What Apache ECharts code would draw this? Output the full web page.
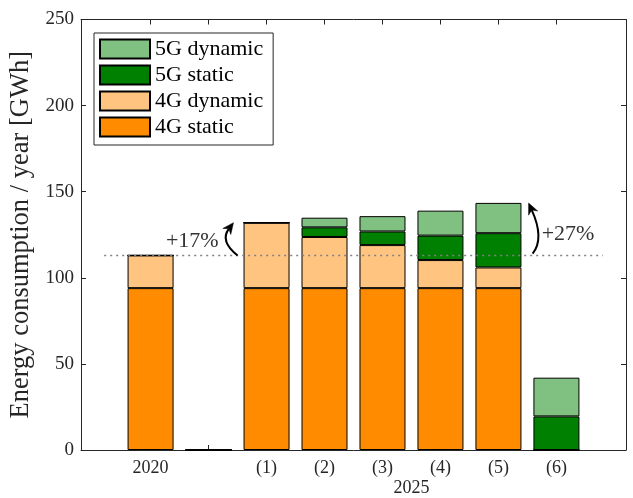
<!DOCTYPE html>
<html><head><meta charset="utf-8">
<script src="https://cdn.jsdelivr.net/npm/echarts@6/dist/echarts.min.js"></script>
<style>html,body{margin:0;padding:0;background:#fff}#c{width:633px;height:498px}</style>
</head><body><div id="c"></div>
<script>
// ---- data ----
const categories = ['2020', '', '(1)', '(2)', '(3)', '(4)', '(5)', '(6)'];
const lteStatic  = [94, 0, 94, 94, 94, 94, 94, 0];
const lteDynamic = [19, 0, 38, 29.7, 25, 16.3, 12, 0];
const nrStatic   = [0, 0, 0, 5.6, 7.9, 14.2, 19.9, 19.5];
const nrDynamic  = [0, 0, 0, 5.6, 8.9, 14.5, 17.6, 22.5];
const yTicks = [0, 50, 100, 150, 200, 250];
const baseline2020 = 113;
const gainLow = { label: '+17%', from: 113, to: 132 };
const gainHigh = { label: '+27%', from: 114, to: 143.4 };
const groupLabel = '2025';
const seriesNames = ['4G static', '4G dynamic', '5G static', '5G dynamic'];
const seriesColors = ['#FF8C00', '#FFC580', '#008000', '#80C080'];

const idx = categories.map((c, i) => i);
const seriesValues = [lteStatic, lteDynamic, nrStatic, nrDynamic];

const FONT = 'Liberation Serif';
const AX = '#262626';

// frame spans 9.4 category bands (1.2 band margin each side)
const FL = 81, FR = 7, FT = 19.5, FB = 48, W = 633;
const band = (W - FL - FR) / 9.4;
const innerLeft = FL + 0.7 * band, innerRight = FR + 0.7 * band;

const chart = echarts.init(document.getElementById('c'), null, { renderer: 'canvas' });

const barSeries = seriesNames.map((name, s) => ({
  name, type: 'bar', stack: 'total', barWidth: 46, z: 3,
  xAxisIndex: 0, yAxisIndex: 0,
  itemStyle: { color: seriesColors[s], borderColor: '#000', borderWidth: 1 },
  data: seriesValues[s]
}));

const frameAxisCommon = {
  splitLine: { show: false },
  axisLine: { show: true, onZero: false, lineStyle: { color: AX, width: 1 } },
  axisTick: { show: true, inside: true, length: 5, lineStyle: { color: AX } }
};

const option = {
  animation: false,
  backgroundColor: '#fff',
  grid: [
    { left: innerLeft, right: innerRight, top: FT, bottom: FB, containLabel: false, outerBoundsMode: 'none' },
    { left: FL, right: FR, top: FT, bottom: FB, containLabel: false, outerBoundsMode: 'none' }
  ],
  legend: {
    data: seriesNames.slice().reverse(),
    orient: 'vertical', left: 94, top: 33,
    itemWidth: 50, itemHeight: 19, itemGap: 4,
    icon: 'rect',
    padding: [5, 10, 7, 5],
    backgroundColor: '#fff', borderColor: AX, borderWidth: 1,
    textStyle: { fontFamily: FONT, fontSize: 22, color: '#000' }
  },
  xAxis: [
    { type: 'category', gridIndex: 0, data: categories, show: false },
    Object.assign({}, frameAxisCommon, {
      type: 'value', gridIndex: 1, min: -1.2, max: 8.2,
      axisTick: Object.assign({}, frameAxisCommon.axisTick, { customValues: idx }),
      axisLabel: { customValues: idx, formatter: v => categories[Math.round(v)] ?? '', fontFamily: FONT, fontSize: 18, color: AX, margin: 9 }
    }),
    Object.assign({}, frameAxisCommon, {
      type: 'value', gridIndex: 1, min: -1.2, max: 8.2, position: 'top',
      axisTick: Object.assign({}, frameAxisCommon.axisTick, { customValues: idx }),
      axisLabel: { show: false }
    })
  ],
  yAxis: [
    { type: 'value', gridIndex: 0, min: 0, max: 250, interval: 50, show: false },
    Object.assign({}, frameAxisCommon, {
      type: 'value', gridIndex: 1, min: 0, max: 250, interval: 50,
      axisLabel: { fontFamily: FONT, fontSize: 19, color: AX, margin: 7 },
      name: 'Energy consumption / year [GWh]', nameLocation: 'middle', nameGap: 41,
      nameTextStyle: { fontFamily: FONT, fontSize: 26.5, color: AX }
    }),
    Object.assign({}, frameAxisCommon, {
      type: 'value', gridIndex: 1, min: 0, max: 250, interval: 50, position: 'right',
      axisLabel: { show: false }
    })
  ],
  series: [{
    name: 'ref', type: 'line', data: [], z: 1, silent: true, xAxisIndex: 1, yAxisIndex: 1,
    markLine: {
      silent: true, symbol: ['none', 'none'], label: { show: false },
      lineStyle: { type: [2, 4], color: '#808080', width: 1.4 },
      data: [[{ coord: [-0.8, baseline2020] }, { coord: [7.8, baseline2020] }]]
    }
  }].concat(barSeries)
};
chart.setOption(option);

// ---- annotations (arrows + percentages) anchored on data coordinates ----
function px(x, y) { return chart.convertToPixel({ xAxisIndex: 1, yAxisIndex: 1 }, [x, y]); }
function arrow(p0, p2, cOff) {
  const c = [(p0[0] + p2[0]) / 2 + cOff[0], (p0[1] + p2[1]) / 2 + cOff[1]];
  let dx = p2[0] - c[0], dy = p2[1] - c[1];
  const L = Math.hypot(dx, dy); dx /= L; dy /= L;
  const nx = -dy, ny = dx, hl = 11, hw = 5;
  const base = [p2[0] - dx * hl, p2[1] - dy * hl];
  const notch = [p2[0] - dx * hl * 0.7, p2[1] - dy * hl * 0.7];
  return [
    { type: 'bezierCurve', z: 10, shape: { x1: p0[0], y1: p0[1], x2: notch[0], y2: notch[1], cpx1: c[0], cpy1: c[1] },
      style: { stroke: '#000', lineWidth: 2, fill: null } },
    { type: 'polygon', z: 11, shape: { points: [p2, [base[0] + nx * hw, base[1] + ny * hw], notch, [base[0] - nx * hw, base[1] - ny * hw]] },
      style: { fill: '#000', stroke: '#000', lineWidth: 0.5 } }
  ];
}
const a1 = arrow(px(1.5, gainLow.from), px(1.43, gainLow.to), [-16, 2]);
const a2 = arrow(px(6.59, gainHigh.from), px(6.52, gainHigh.to), [14, 10]);
const t1 = px(0.72, 121), t2 = px(7.2, 125.5), tg = px(4.5, 0);
chart.setOption({
  graphic: a1.concat(a2).concat([
    { type: 'text', z: 12, x: t1[0], y: t1[1], style: { text: gainLow.label, fontFamily: FONT, fontSize: 22, fill: '#333', align: 'center', verticalAlign: 'middle' } },
    { type: 'text', z: 12, x: t2[0], y: t2[1], style: { text: gainHigh.label, fontFamily: FONT, fontSize: 22, fill: '#333', align: 'center', verticalAlign: 'middle' } },
    { type: 'text', z: 12, x: tg[0], y: tg[1] + 38, style: { text: groupLabel, fontFamily: FONT, fontSize: 18, fill: AX, align: 'center', verticalAlign: 'middle' } }
  ])
});
</script>
</body></html>
